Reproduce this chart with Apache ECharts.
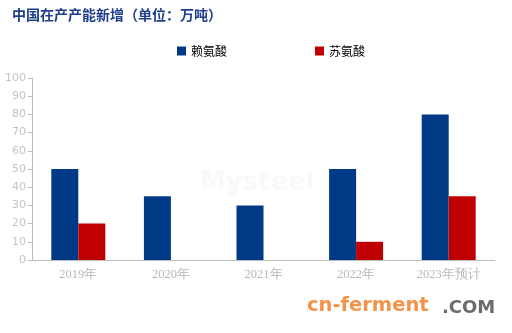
<!DOCTYPE html>
<html><head><meta charset="utf-8">
<script src="https://cdn.jsdelivr.net/npm/echarts@6/dist/echarts.min.js"></script>
<style>html,body{margin:0;padding:0;background:#fff}#c{width:512px;height:333px}</style>
</head><body><div id="c"></div>
<script>
var categories = ['2019年','2020年','2021年','2022年','2023年预计'];
var lysine = [50, 35, 30, 50, 80];
var threonine = [20, 0, 0, 10, 35];
var seriesNames = ['赖氨酸','苏氨酸'];
var chart = echarts.init(document.getElementById('c'));
chart.setOption({
  animation:false,
  title:{text:'中国在产产能新增（单位：万吨）',left:7,top:3,textStyle:{fontFamily:'Noto Sans CJK SC',fontSize:14,fontWeight:'bold',color:'#1f3f8a'}},
  legend:{top:40,left:172,itemGap:88,itemWidth:9,itemHeight:9,icon:'rect',textStyle:{fontFamily:'Noto Sans CJK SC',fontSize:12,color:'#000'},data:seriesNames},
  grid:{left:32,right:17,top:78,bottom:73},
  xAxis:{type:'category',data:categories,axisLine:{lineStyle:{color:'#bdbdbd'}},axisTick:{length:5,lineStyle:{color:'#bdbdbd'}},axisLabel:{color:'#b8b8b8',fontSize:12.5,fontFamily:'Liberation Serif',margin:8}},
  yAxis:{type:'value',min:0,max:100,interval:10,axisLine:{show:true,lineStyle:{color:'#bdbdbd'}},axisTick:{show:true,length:4,lineStyle:{color:'#bdbdbd'}},splitLine:{show:false},axisLabel:{color:'#c4c4c4',fontSize:11,fontFamily:'DejaVu Sans',margin:6}},
  graphic:[
    {type:'text',left:200,top:170,style:{text:'Mysteel',font:'bold 26px DejaVu Sans',fill:'rgba(200,200,200,0.1)'}},
    {type:'text',left:307,top:296,style:{text:'cn-ferment',font:'bold 19.5px DejaVu Sans',fill:'#f5924a'}},
    {type:'text',left:442,top:299,style:{text:'.COM',font:'bold 18px DejaVu Sans',fill:'#6b6b6b'}}
  ],
  series:[
    {name:seriesNames[0],type:'bar',data:lysine,barWidth:27,barGap:'0%',itemStyle:{color:'#003a86'}},
    {name:seriesNames[1],type:'bar',data:threonine,barWidth:27,itemStyle:{color:'#c00000'}}
  ]
});
</script></body></html>
